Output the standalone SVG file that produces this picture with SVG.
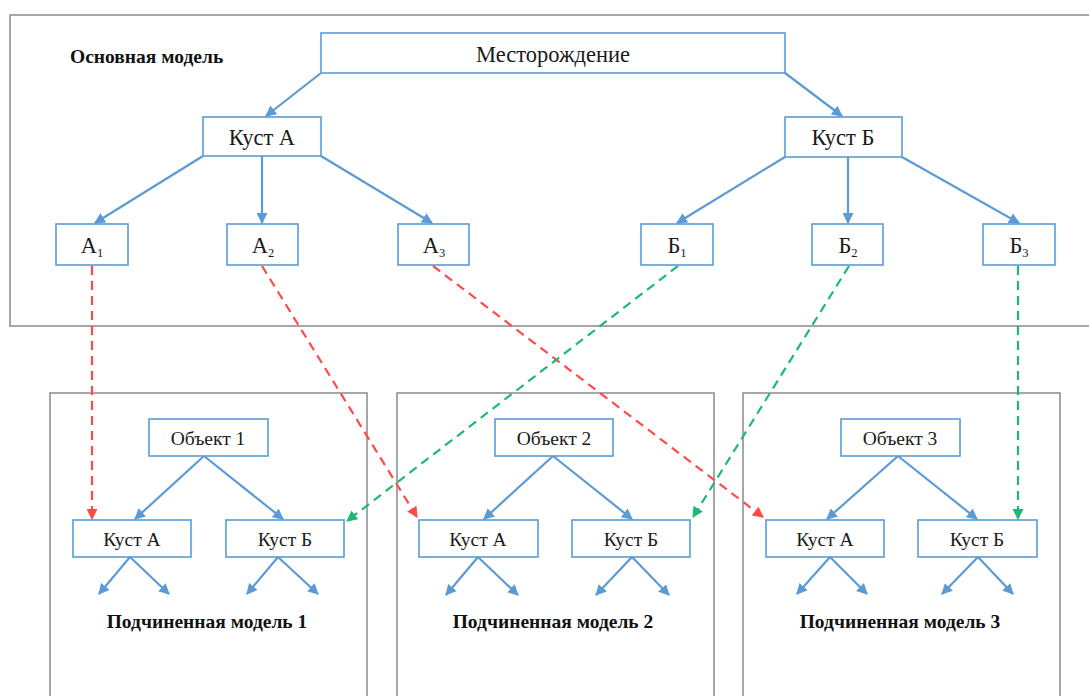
<svg xmlns="http://www.w3.org/2000/svg" width="1089" height="696" viewBox="0 0 1089 696">
<defs>
<style>
.frame{fill:#fff;stroke:#8a8a8a;stroke-width:1.5}
.box{fill:#fff;stroke:#5b9bd5;stroke-width:1.6}
.t{font-family:"Liberation Serif","Times New Roman",serif;fill:#1a1a1a;text-anchor:middle}
.lb{font-family:"Liberation Serif","Times New Roman",serif;font-weight:bold;fill:#111}
.sub{font-size:12.5px}
.blue{stroke:#5b9bd5;stroke-width:2.2;fill:none;marker-end:url(#ab)}
.red{stroke:#ff4a4a;stroke-width:2.2;fill:none;stroke-dasharray:9 6;marker-end:url(#ar)}
.green{stroke:#1fb874;stroke-width:2.2;fill:none;stroke-dasharray:9 6;marker-end:url(#ag)}
</style>
<marker id="ab" viewBox="0 0 10 10" refX="9" refY="5" markerWidth="5" markerHeight="5" orient="auto" markerUnits="strokeWidth"><path d="M0,0 L10,5 L0,10 z" fill="#5b9bd5"/></marker>
<marker id="ar" viewBox="0 0 10 10" refX="9" refY="5" markerWidth="5" markerHeight="5" orient="auto" markerUnits="strokeWidth"><path d="M0,0 L10,5 L0,10 z" fill="#ff4a4a"/></marker>
<marker id="ag" viewBox="0 0 10 10" refX="9" refY="5" markerWidth="5" markerHeight="5" orient="auto" markerUnits="strokeWidth"><path d="M0,0 L10,5 L0,10 z" fill="#1fb874"/></marker>
</defs>
<rect width="1089" height="696" fill="#fff"/>

<g id="main-model">
<rect class="frame" x="10" y="15" width="1080" height="311"/>
<text class="lb" x="70" y="63" font-size="19.5">Основная модель</text>
</g>
<g id="sub-model-1">
<rect class="frame" x="50" y="393" width="317" height="310"/>
<text class="lb" x="207" y="628" font-size="19.5" text-anchor="middle">Подчиненная  модель 1</text>
</g>
<g id="sub-model-2">
<rect class="frame" x="397" y="393" width="317" height="310"/>
<text class="lb" x="553" y="628" font-size="19.5" text-anchor="middle">Подчиненная  модель 2</text>
</g>
<g id="sub-model-3">
<rect class="frame" x="743" y="393" width="317" height="310"/>
<text class="lb" x="900" y="628" font-size="19.5" text-anchor="middle">Подчиненная  модель 3</text>
</g>

<g id="mestorozhdenie"><rect class="box" x="321" y="33" width="464" height="40"/><text class="t" x="553" y="62" font-size="22.5">Месторождение</text></g>
<g id="kust-a"><rect class="box" x="203" y="117" width="118" height="39"/><text class="t" x="262" y="145" font-size="22.5">Куст А</text></g>
<g id="kust-b"><rect class="box" x="785" y="117" width="117" height="40"/><text class="t" x="843" y="145" font-size="22.5">Куст Б</text></g>

<g id="a1"><rect class="box" x="56" y="224" width="72" height="41"/><text class="t" x="92" y="253" font-size="22.5">А<tspan class="sub" dy="4">1</tspan></text></g>
<g id="a2"><rect class="box" x="227" y="224" width="71" height="41"/><text class="t" x="263" y="253" font-size="22.5">А<tspan class="sub" dy="4">2</tspan></text></g>
<g id="a3"><rect class="box" x="398" y="224" width="71" height="41"/><text class="t" x="434" y="253" font-size="22.5">А<tspan class="sub" dy="4">3</tspan></text></g>
<g id="b1"><rect class="box" x="641" y="224" width="72" height="41"/><text class="t" x="677" y="253" font-size="22.5">Б<tspan class="sub" dy="4">1</tspan></text></g>
<g id="b2"><rect class="box" x="812" y="224" width="71" height="41"/><text class="t" x="848" y="253" font-size="22.5">Б<tspan class="sub" dy="4">2</tspan></text></g>
<g id="b3"><rect class="box" x="983" y="224" width="72" height="41"/><text class="t" x="1019" y="253" font-size="22.5">Б<tspan class="sub" dy="4">3</tspan></text></g>

<g id="obj1"><rect class="box" x="149" y="419" width="119" height="37"/><text class="t" x="208" y="445" font-size="19.5">Объект 1</text></g>
<g id="m1-kust-a"><rect class="box" x="73" y="520" width="118" height="37"/><text class="t" x="132" y="546" font-size="19.5">Куст А</text></g>
<g id="m1-kust-b"><rect class="box" x="226" y="520" width="118" height="37"/><text class="t" x="285" y="546" font-size="19.5">Куст Б</text></g>

<g id="obj2"><rect class="box" x="495" y="419" width="118" height="37"/><text class="t" x="554" y="445" font-size="19.5">Объект 2</text></g>
<g id="m2-kust-a"><rect class="box" x="419" y="520" width="119" height="37"/><text class="t" x="478" y="546" font-size="19.5">Куст А</text></g>
<g id="m2-kust-b"><rect class="box" x="572" y="520" width="118" height="37"/><text class="t" x="631" y="546" font-size="19.5">Куст Б</text></g>

<g id="obj3"><rect class="box" x="841" y="419" width="119" height="37"/><text class="t" x="900" y="445" font-size="19.5">Объект 3</text></g>
<g id="m3-kust-a"><rect class="box" x="766" y="520" width="118" height="37"/><text class="t" x="825" y="546" font-size="19.5">Куст А</text></g>
<g id="m3-kust-b"><rect class="box" x="918" y="520" width="119" height="37"/><text class="t" x="977" y="546" font-size="19.5">Куст Б</text></g>

<g id="connectors">
<line class="blue" x1="321" y1="73" x2="266" y2="116"/>
<line class="blue" x1="785" y1="73" x2="842" y2="116"/>
<line class="blue" x1="203" y1="156" x2="95" y2="223"/>
<line class="blue" x1="262" y1="156" x2="262" y2="223"/>
<line class="blue" x1="321" y1="156" x2="432" y2="223"/>
<line class="blue" x1="785" y1="157" x2="677" y2="223"/>
<line class="blue" x1="848" y1="157" x2="848" y2="223"/>
<line class="blue" x1="902" y1="157" x2="1019" y2="223"/>

<line class="blue" x1="204" y1="456" x2="135" y2="519"/>
<line class="blue" x1="204" y1="456" x2="283" y2="519"/>
<line class="blue" x1="130" y1="557" x2="99" y2="594"/>
<line class="blue" x1="130" y1="557" x2="169" y2="594"/>
<line class="blue" x1="278" y1="557" x2="247" y2="594"/>
<line class="blue" x1="278" y1="557" x2="318" y2="594"/>

<line class="blue" x1="553" y1="456" x2="484" y2="519"/>
<line class="blue" x1="553" y1="456" x2="632" y2="519"/>
<line class="blue" x1="478" y1="557" x2="446" y2="595"/>
<line class="blue" x1="478" y1="557" x2="518" y2="595"/>
<line class="blue" x1="632" y1="557" x2="596" y2="595"/>
<line class="blue" x1="632" y1="557" x2="669" y2="595"/>

<line class="blue" x1="898" y1="456" x2="827" y2="519"/>
<line class="blue" x1="898" y1="456" x2="977" y2="519"/>
<line class="blue" x1="830" y1="557" x2="797" y2="594"/>
<line class="blue" x1="830" y1="557" x2="867" y2="594"/>
<line class="blue" x1="978" y1="557" x2="942" y2="594"/>
<line class="blue" x1="978" y1="557" x2="1013" y2="594"/>

<line class="red" x1="92" y1="266" x2="92" y2="519"/>
<line class="red" x1="262" y1="266" x2="417" y2="517"/>
<line class="red" x1="433" y1="266" x2="763" y2="517"/>
<line class="green" x1="678" y1="266" x2="347" y2="521"/>
<line class="green" x1="849" y1="266" x2="693" y2="517"/>
<line class="green" x1="1018" y1="266" x2="1018" y2="519"/>
</g>
</svg>
